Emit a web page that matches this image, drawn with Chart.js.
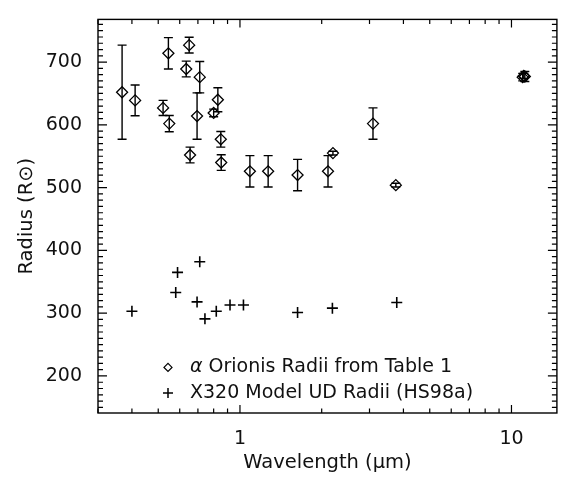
<!DOCTYPE html>
<html>
<head>
    <meta charset="UTF-8">
    <title>radiusChart</title>
    <script src="https://cdn.jsdelivr.net/npm/chart.js"></script>
    <style>
        body { margin: 0; background: #fff; }
    </style>
</head>
<body>
    <canvas id="radiusChart" width="564" height="477"></canvas>

    <script>
        // alpha Ori radii from Table 1 (wavelength in micron, radius in R_sun, error)
        var tableWave = [0.368, 0.411, 0.521, 0.545, 0.549, 0.634, 0.650, 0.655, 0.695, 0.711, 0.800, 0.829,
                         0.850, 0.853, 1.088, 1.27, 1.63, 2.11, 2.20, 3.09, 3.75, 11.0, 11.1, 11.2];
        var tableRadius = [652, 639, 627, 714, 602, 689, 727, 552, 614, 676, 619, 640,
                           577, 540, 526, 526, 520, 526, 555, 602, 504, 676, 678, 677];
        var tableErr = [75, 24.5, 12, 25, 13, 12.5, 12.5, 12.5, 37, 25, 6, 19,
                        12.5, 12.5, 25, 25, 25, 25, 3, 25, 3, 6, 4, 8];

        // X320 model UD radii (HS98a)
        var modelWave = [0.40, 0.580, 0.589, 0.695, 0.711, 0.743, 0.818, 0.919, 1.03, 1.63, 2.19, 3.78];
        var modelRadius = [303, 333, 365, 318, 382, 291, 303, 313, 313, 301, 308, 317];

        var xTickLabels = [1, 10];
        var xMinorTicks = [0.3, 0.4, 0.5, 0.6, 0.7, 0.8, 0.9, 2, 3, 4, 5, 6, 7, 8, 9];
        var yTickLabels = [200, 300, 400, 500, 600, 700];

        var fontFamily = '"DejaVu Sans", sans-serif';

        function toPoints(xs, ys) {
            var pts = [];
            for (var i = 0; i < xs.length; i++) {
                pts.push({ x: xs[i], y: ys[i] });
            }
            return pts;
        }

        // error bars for the first dataset
        var errorBars = {
            id: 'errorBars',
            afterDatasetsDraw: function(chart) {
                var ctx = chart.ctx;
                var yScale = chart.scales.y;
                var meta = chart.getDatasetMeta(0);
                ctx.save();
                ctx.strokeStyle = '#000';
                ctx.lineWidth = 1.4;
                for (var i = 0; i < meta.data.length; i++) {
                    var px = meta.data[i].x;
                    var top = yScale.getPixelForValue(tableRadius[i] + tableErr[i]);
                    var bot = yScale.getPixelForValue(tableRadius[i] - tableErr[i]);
                    ctx.beginPath();
                    ctx.moveTo(px, top); ctx.lineTo(px, bot);
                    ctx.moveTo(px - 4.5, top); ctx.lineTo(px + 4.5, top);
                    ctx.moveTo(px - 4.5, bot); ctx.lineTo(px + 4.5, bot);
                    ctx.stroke();
                }
                ctx.restore();
            }
        };

        // box frame with inward ticks on all four sides
        var frameTicks = {
            id: 'frameTicks',
            afterDraw: function(chart) {
                var ctx = chart.ctx;
                var a = chart.chartArea;
                var xs = chart.scales.x, ys = chart.scales.y;
                ctx.save();
                ctx.strokeStyle = '#000';
                ctx.lineWidth = 1.4;
                ctx.strokeRect(a.left, a.top, a.right - a.left, a.bottom - a.top);
                ctx.lineWidth = 1.2;
                ctx.beginPath();
                function xTick(v, len) {
                    var p = xs.getPixelForValue(v);
                    ctx.moveTo(p, a.bottom); ctx.lineTo(p, a.bottom - len);
                    ctx.moveTo(p, a.top); ctx.lineTo(p, a.top + len);
                }
                function yTick(v, len) {
                    var p = ys.getPixelForValue(v);
                    ctx.moveTo(a.left, p); ctx.lineTo(a.left + len, p);
                    ctx.moveTo(a.right, p); ctx.lineTo(a.right - len, p);
                }
                xTickLabels.forEach(function(v) { xTick(v, 8); });
                xMinorTicks.forEach(function(v) { xTick(v, 4.5); });
                for (var v = 150; v < ys.max; v += 10) {
                    yTick(v, v % 100 === 0 ? 9 : 5);
                }
                ctx.stroke();
                ctx.restore();
            }
        };

        // legend drawn inside the plot box
        var boxLegend = {
            id: 'boxLegend',
            afterDraw: function(chart) {
                var ctx = chart.ctx;
                var a = chart.chartArea;
                var mx = a.left + 70, tx = a.left + 92;
                var y1 = a.top + 348, y2 = a.top + 373.5;
                ctx.save();
                ctx.strokeStyle = '#000';
                ctx.lineWidth = 1.2;
                ctx.beginPath();
                ctx.moveTo(mx - 4, y1); ctx.lineTo(mx, y1 - 4);
                ctx.lineTo(mx + 4, y1); ctx.lineTo(mx, y1 + 4);
                ctx.closePath();
                ctx.stroke();
                ctx.lineWidth = 1.5;
                ctx.beginPath();
                ctx.moveTo(mx - 5, y2); ctx.lineTo(mx + 5, y2);
                ctx.moveTo(mx, y2 - 5); ctx.lineTo(mx, y2 + 5);
                ctx.stroke();

                ctx.fillStyle = '#111';
                ctx.textBaseline = 'middle';
                ctx.textAlign = 'left';
                ctx.font = 'italic 19px ' + fontFamily;
                ctx.fillText('α', tx, y1);
                var w = ctx.measureText('α').width;
                ctx.font = '19px ' + fontFamily;
                ctx.fillText(' Orionis Radii from Table 1', tx + w, y1);
                ctx.fillText('X320 Model UD Radii (HS98a)', tx, y2);
                ctx.restore();
            }
        };

        function createRadiusChart() {
            var ctx = document.getElementById('radiusChart').getContext('2d');
            var radiusChart = new Chart(ctx, {
                type: 'scatter',
                data: {
                    datasets: [{
                        label: 'α Orionis Radii from Table 1',
                        data: toPoints(tableWave, tableRadius),
                        pointStyle: 'rectRot',
                        pointRadius: 5.5,
                        borderColor: '#000',
                        backgroundColor: 'rgba(0,0,0,0)',
                        borderWidth: 1.3
                    }, {
                        label: 'X320 Model UD Radii (HS98a)',
                        data: toPoints(modelWave, modelRadius),
                        pointStyle: 'cross',
                        pointRadius: 5.5,
                        borderColor: '#000',
                        backgroundColor: '#000',
                        borderWidth: 1.6
                    }]
                },
                options: {
                    responsive: false,
                    animation: false,
                    layout: { padding: { left: 0, right: 2, top: 9, bottom: 0 } },
                    plugins: {
                        legend: { display: false },
                        tooltip: { enabled: false }
                    },
                    scales: {
                        x: {
                            type: 'logarithmic',
                            min: 0.3,
                            max: 14.7,
                            grid: { display: false },
                            border: { display: false },
                            afterBuildTicks: function(scale) {
                                scale.ticks = xTickLabels.map(function(v) { return { value: v }; });
                            },
                            afterFit: function(scale) { scale.height = 64; },
                            ticks: {
                                autoSkip: false,
                                maxRotation: 0,
                                padding: 7,
                                color: '#111',
                                font: { family: fontFamily, size: 19 },
                                callback: function(value) { return String(value); }
                            },
                            title: {
                                display: true,
                                text: 'Wavelength (μm)',
                                color: '#111',
                                padding: { top: 0, bottom: 2 },
                                font: { family: fontFamily, size: 19.5 }
                            }
                        },
                        y: {
                            min: 141,
                            max: 768,
                            grid: { display: false },
                            border: { display: false },
                            afterBuildTicks: function(scale) {
                                scale.ticks = yTickLabels.map(function(v) { return { value: v }; });
                            },
                            afterFit: function(scale) { scale.width = 98; },
                            ticks: {
                                padding: 8,
                                color: '#111',
                                font: { family: fontFamily, size: 19 }
                            },
                            title: {
                                display: true,
                                text: 'Radius (R⊙)',
                                color: '#111',
                                padding: { top: 15, bottom: 0 },
                                font: { family: fontFamily, size: 19.5 }
                            }
                        }
                    }
                },
                plugins: [errorBars, frameTicks, boxLegend]
            });
        }
        createRadiusChart();
    </script>
</body>
</html>
